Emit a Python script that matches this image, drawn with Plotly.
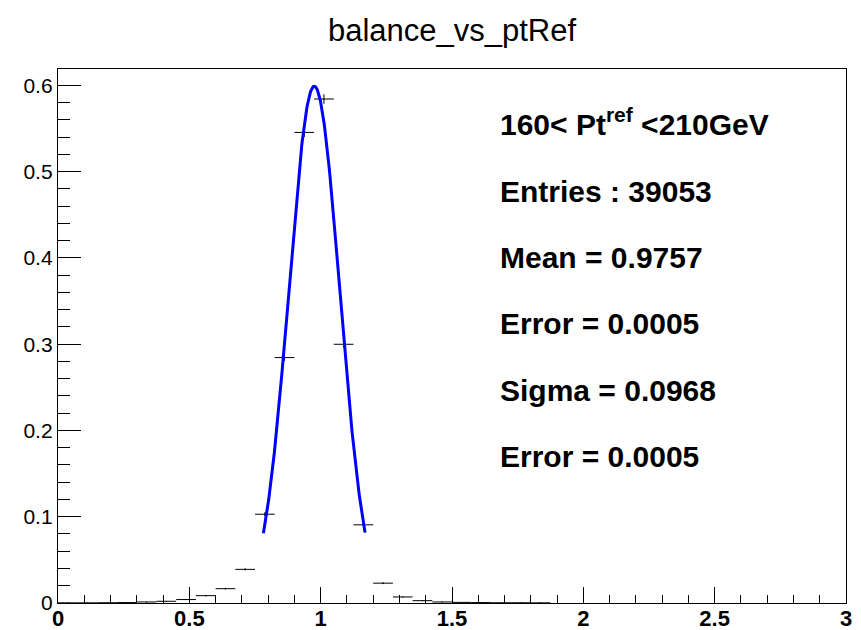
import numpy as np
import plotly.graph_objects as go

# Histogram: 40 bins of width 0.075 from 0 to 3 (non-empty bins only)
bin_centers = [0.0375, 0.1125, 0.1875, 0.2625, 0.3375, 0.4125, 0.4875, 0.5625,
               0.6375, 0.7125, 0.7875, 0.8625, 0.9375, 1.0125, 1.0875, 1.1625,
               1.2375, 1.3125, 1.3875, 1.4625, 1.5375, 1.6125, 1.6875, 1.7625,
               1.8375]
bin_values = [0.0002, 0.0002, 0.0003, 0.0005, 0.0012, 0.0020, 0.0040, 0.0085,
              0.0166, 0.0390, 0.1029, 0.2845, 0.5455, 0.5842, 0.2999, 0.0906,
              0.0230, 0.0070, 0.0027, 0.0012, 0.0007, 0.0005, 0.0003, 0.0003,
              0.0002]
bin_errors = [0.0001, 0.0001, 0.0001, 0.0002, 0.0003, 0.0003, 0.0005, 0.0007,
              0.0009, 0.0014, 0.0023, 0.0039, 0.0053, 0.0055, 0.0040, 0.0022,
              0.0011, 0.0006, 0.0004, 0.0003, 0.0002, 0.0002, 0.0001, 0.0001,
              0.0001]
bin_half_width = [0.0375] * len(bin_centers)

# Gaussian fit parameters (as displayed)
fit_amplitude = 0.599
fit_mean = 0.9757
fit_sigma = 0.0968
fit_range = [0.782, 1.169]

text_lines = ["160< Pt<sup>ref</sup> <210GeV", "Entries : 39053", "Mean = 0.9757",
              "Error = 0.0005", "Sigma = 0.0968", "Error = 0.0005"]
text_y = [0.557, 0.4775, 0.4006, 0.3237, 0.2468, 0.170]

FONT = "Liberation Sans, Arial"

fig = go.Figure()
fig.add_trace(go.Scatter(
    x=bin_centers, y=bin_values, mode="markers",
    marker=dict(size=1, color="black"),
    error_x=dict(type="data", array=bin_half_width, width=0, thickness=1, color="black"),
    error_y=dict(type="data", array=bin_errors, width=0, thickness=1, color="black"),
    showlegend=False, hoverinfo="x+y"))

xf = np.linspace(fit_range[0], fit_range[1], 200)
yf = fit_amplitude * np.exp(-0.5 * ((xf - fit_mean) / fit_sigma) ** 2)
fig.add_trace(go.Scatter(x=xf, y=yf, mode="lines",
                         line=dict(color="#0000ff", width=3), showlegend=False))

for t, yy in zip(text_lines, text_y):
    fig.add_annotation(x=1.674, y=yy, xref="x", yref="y", text="<b>" + t + "</b>",
                       showarrow=False, xanchor="left", yanchor="middle",
                       font=dict(family=FONT, size=30, color="black"))

fig.update_layout(
    width=861, height=630, autosize=False,
    margin=dict(l=58, r=15, t=69, b=27),
    paper_bgcolor="white", plot_bgcolor="white",
    title=dict(text="balance_vs_ptRef", x=0.5, xref="paper", xanchor="center",
               y=0.952, yanchor="middle",
               font=dict(family=FONT, size=31, color="black")),
    font=dict(family=FONT, color="black"),
)
fig.update_xaxes(range=[0, 3], dtick=0.5, tick0=0, ticks="inside", ticklen=16,
                 tickwidth=1, tickcolor="black", showgrid=False, zeroline=False,
                 showline=True, linecolor="black", linewidth=1.3, mirror=True,
                 automargin=False, ticklabelstandoff=-5,
                 tickfont=dict(family=FONT, size=22, color="black", weight="bold"),
                 minor=dict(dtick=0.1, ticks="inside", ticklen=8, tickcolor="black",
                            tickwidth=1, showgrid=False))
fig.update_yaxes(range=[0, 0.619], dtick=0.1, tick0=0, ticks="inside", ticklen=23,
                 tickwidth=1, tickcolor="black", showgrid=False, zeroline=False,
                 showline=True, linecolor="black", linewidth=1.3, mirror=True,
                 automargin=False,
                 tickfont=dict(family=FONT, size=21, color="black"),
                 minor=dict(dtick=0.02, ticks="inside", ticklen=12, tickcolor="black",
                            tickwidth=1, showgrid=False))

fig.write_html("out.html")
